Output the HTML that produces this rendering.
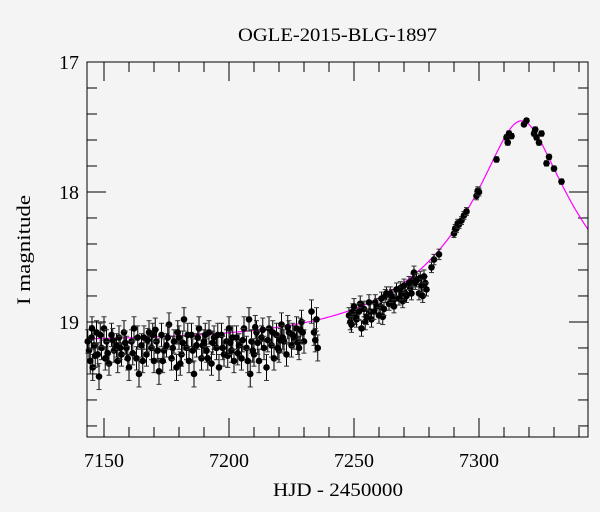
<!DOCTYPE html>
<html><head><meta charset="utf-8"><style>
body{margin:0;background:#f4f4f4;}
svg{display:block;font-family:"Liberation Serif",serif;}
</style></head><body>
<svg id="c" width="600" height="512" xmlns="http://www.w3.org/2000/svg">
<rect x="0" y="0" width="600" height="512" fill="#f4f4f4"/>
<text x="238" y="41" font-size="19" textLength="199" lengthAdjust="spacingAndGlyphs">OGLE-2015-BLG-1897</text>
<text x="273" y="496" font-size="19" textLength="130" lengthAdjust="spacingAndGlyphs">HJD - 2450000</text>
<text x="0" y="0" font-size="19" textLength="110" lengthAdjust="spacingAndGlyphs" transform="translate(30,305) rotate(-90)">I magnitude</text>
<g id="ticks"></g>
<g id="model"></g>
<g id="pts"></g>
<rect x="87" y="62" width="501" height="375" fill="none" stroke="#000" stroke-width="1"/>
</svg>
<script>
const xTicks=[7150,7200,7250,7300];
const yTicks=[17,18,19];
const model={t0:7317,tE:60,u0:0.213,base:19.15};
const data=[
[7144,19.22,0.09],[7144.5,19.30,0.1],[7145,19.12,0.09],[7145.5,19.35,0.1],[7146,19.18,0.09],[7147,19.08,0.09],[7147.5,19.25,0.09],[7148,19.42,0.1],[7149,19.20,0.09],[7150,19.05,0.09],[7150.5,19.28,0.09],[7151,19.15,0.09],[7152,19.32,0.09],[7153,19.10,0.09],[7154,19.22,0.09],[7155,19.18,0.09],[7155.5,19.30,0.09],[7156,19.12,0.09],[7157,19.25,0.09],[7158,19.08,0.09],[7159,19.20,0.09],[7160,19.35,0.1],[7161,19.15,0.09],[7162,19.05,0.09],[7163,19.28,0.09],[7164,19.40,0.1],[7165,19.18,0.09],[7166,19.12,0.09],[7167,19.25,0.09],[7168,19.08,0.09],[7169,19.20,0.09],[7170,19.30,0.09],[7171,19.15,0.09],[7172,19.38,0.1],[7173,19.10,0.09],[7174,19.22,0.09],[7175,19.18,0.09],[7176,19.02,0.09],[7177,19.28,0.09],[7178,19.15,0.09],[7179,19.35,0.1],[7180,19.12,0.09],[7181,19.25,0.09],[7182,18.98,0.09],[7183,19.20,0.09],[7184,19.30,0.09],[7185,19.10,0.09],[7186,19.40,0.1],[7187,19.18,0.09],[7188,19.05,0.09],[7189,19.28,0.09],[7190,19.15,0.09],[7191,19.22,0.09],[7192,19.08,0.09],[7193,19.32,0.09],[7194,19.12,0.09],[7195,19.20,0.09],[7196,19.35,0.1],[7197,19.10,0.09],[7198,19.25,0.09],[7199,19.15,0.09],[7200,19.05,0.09],[7201,19.22,0.09],[7202,19.30,0.09],[7203,19.12,0.09],[7204,19.18,0.09],[7205,19.28,0.09],[7206,19.05,0.09],[7207,19.20,0.09],[7208,18.98,0.09],[7208.5,19.40,0.1],[7209,19.15,0.09],[7210,19.25,0.09],[7211,19.08,0.09],[7212,19.30,0.09],[7213,19.12,0.09],[7214,19.20,0.09],[7215,19.35,0.1],[7216,19.05,0.09],[7217,19.18,0.09],[7218,19.28,0.09],[7219,19.10,0.09],[7220,19.22,0.09],[7221,19.02,0.09],[7222,19.15,0.09],[7223,19.25,0.09],[7224,19.08,0.09],[7225,19.18,0.09],[7226,19.12,0.09],[7227,19.05,0.09],[7228,19.20,0.09],[7229,19.00,0.09],[7230,19.15,0.09],[7233,18.92,0.09],[7234,19.08,0.1],[7235,18.98,0.09],[7235.5,19.20,0.1],
[7143.5,19.15,0.09],[7146.5,19.26,0.09],[7148.5,19.10,0.09],[7151.5,19.24,0.09],[7153.5,19.14,0.09],[7156.5,19.20,0.09],[7158.5,19.16,0.09],[7161.5,19.24,0.09],[7163.5,19.12,0.09],[7165.5,19.30,0.09],[7167.5,19.14,0.09],[7169.5,19.10,0.09],[7171.5,19.22,0.09],[7173.5,19.30,0.09],[7175.5,19.12,0.09],[7177.5,19.20,0.09],[7179.5,19.08,0.09],[7181.5,19.16,0.09],[7183.5,19.10,0.09],[7185.5,19.22,0.09],[7187.5,19.12,0.09],[7189.5,19.18,0.09],[7191.5,19.28,0.09],[7193.5,19.16,0.09],[7195.5,19.10,0.09],[7197.5,19.20,0.09],[7199.5,19.26,0.09],[7201.5,19.12,0.09],[7203.5,19.24,0.09],[7205.5,19.14,0.09],[7207.5,19.30,0.09],[7209.5,19.22,0.09],[7211.5,19.16,0.09],[7213.5,19.06,0.09],[7215.5,19.14,0.09],[7217.5,19.08,0.09],[7219.5,19.20,0.09],[7221.5,19.12,0.09],[7223.5,19.04,0.09],[7225.5,19.10,0.09],[7227.5,19.16,0.09],[7229.5,19.08,0.09],[7145.2,19.05,0.09],[7159.5,19.28,0.09],[7170.5,19.06,0.09],[7180.5,19.32,0.09],[7190.5,19.10,0.09],[7200.5,19.16,0.09],[7210.5,19.04,0.09],[7220.5,19.14,0.09],[7228.5,19.06,0.09],[7234.5,19.14,0.09],
[7248.5,19.00,0.06],[7249.5,18.92,0.06],[7250.5,18.96,0.06],[7252.5,18.86,0.06],[7254.5,19.00,0.06],[7256.5,18.92,0.06],[7258.5,18.85,0.06],[7260.5,18.88,0.05],[7262.5,18.80,0.05],[7264.5,18.78,0.05],[7266.5,18.82,0.05],[7268.5,18.74,0.05],[7270.5,18.78,0.05],[7272.5,18.74,0.05],[7274.5,18.70,0.05],[7276.5,18.66,0.05],[7278.5,18.70,0.05],[7261.5,18.96,0.06],[7265.5,18.84,0.05],[7269.5,18.84,0.05],[7273.5,18.68,0.05],[7277.5,18.80,0.05],
[7248,18.95,0.06],[7249,19.02,0.06],[7250,18.88,0.06],[7251,18.98,0.06],[7252,18.92,0.06],[7253,19.05,0.06],[7254,18.90,0.06],[7255,18.96,0.06],[7256,18.85,0.06],[7257,18.98,0.06],[7258,18.92,0.06],[7259,18.88,0.06],[7260,18.95,0.06],[7261,18.82,0.05],[7262,18.90,0.05],[7263,18.78,0.05],[7264,18.86,0.05],[7265,18.80,0.05],[7266,18.88,0.05],[7267,18.75,0.05],[7268,18.82,0.05],[7269,18.78,0.05],[7270,18.72,0.05],[7271,18.80,0.05],[7272,18.70,0.05],[7273,18.78,0.05],[7274,18.62,0.05],[7275,18.68,0.05],[7276,18.78,0.05],[7277,18.72,0.05],[7278,18.65,0.05],[7279,18.75,0.05],[7281,18.58,0.04],[7282,18.52,0.04],[7284,18.48,0.04],[7290,18.32,0.03],[7290.5,18.28,0.03],[7291,18.28,0.03],[7291.5,18.24,0.03],[7292,18.25,0.03],[7293,18.22,0.03],[7294,18.18,0.03],[7295,18.15,0.03],[7299,18.03,0.03],[7299.5,17.99,0.03],[7300,18.00,0.03],[7307,17.75,0.02],[7311,17.58,0.02],[7311.5,17.62,0.02],[7312,17.55,0.02],[7313,17.57,0.02],[7318,17.48,0.015],[7319,17.45,0.015],[7322,17.55,0.02],[7322.5,17.52,0.02],[7323,17.58,0.02],[7324,17.62,0.02],[7325,17.55,0.02],[7327,17.78,0.02],[7328,17.73,0.02],[7330,17.82,0.02],[7333,17.92,0.02]
];
const L=87,R=588,T=62,B=437,X0=7143.2,X1=7343.6,Y0=17,Y1=19.885;
const sx=t=>L+(t-X0)/(X1-X0)*(R-L);
const sy=m=>T+(m-Y0)/(Y1-Y0)*(B-T);
const NS="http://www.w3.org/2000/svg";
function mk(tag,attrs,parent){const e=document.createElementNS(NS,tag);for(const k in attrs)e.setAttribute(k,attrs[k]);parent.appendChild(e);return e;}
const tk=document.getElementById('ticks');
for(let t=7150;t<=7340;t+=10){
  const major=xTicks.includes(t);const len=major?19:10;const x=sx(t);
  const a=mk('line',{x1:x,x2:x,y1:B,y2:B-len,stroke:'#000'},tk);
  
  
  const b=mk('line',{x1:x,x2:x,y1:T,y2:T+len,stroke:'#000'},tk);
  
  
}
xTicks.forEach(t=>{const e=mk('text',{x:sx(t),y:467,'font-size':20,'text-anchor':'middle'},tk);e.textContent=t;
  
  });
for(let i=0;i<=14;i++){
  const m=17+i*0.2;const major=(i%5===0);const len=major?19:10;const y=sy(m);
  const a=mk('line',{x1:L,x2:L+len,y1:y,y2:y,stroke:'#000'},tk);
  
  
  const b=mk('line',{x1:R,x2:R-len,y1:y,y2:y,stroke:'#000'},tk);
  
  
}
yTicks.forEach(m=>{const e=mk('text',{x:79,y:sy(m)+7,'font-size':20,'text-anchor':'end'},tk);e.textContent=m;
  
  });
function magAt(t){const tau=(t-model.t0)/model.tE;const u=Math.sqrt(tau*tau+model.u0*model.u0);const A=(u*u+2)/(u*Math.sqrt(u*u+4));return model.base-2.5*Math.log10(A);}
let d='';for(let x=L;x<=R;x+=1){const t=X0+(x-L)/(R-L)*(X1-X0);d+=(x===L?'M':'L')+x+','+sy(magAt(t)).toFixed(2);}
const mp=mk('path',{d:d,fill:'none',stroke:'#ff00ff','stroke-width':1.2},document.getElementById('model'));


const pg=document.getElementById('pts');
data.forEach(p=>{
  const x=sx(p[0]),y=sy(p[1]),y1=sy(p[1]-p[2]),y2=sy(p[1]+p[2]);
  const g=mk('g',{},pg);
  
  
  mk('line',{x1:x,x2:x,y1:y1,y2:y2,stroke:'#000','stroke-width':1},g);
  mk('line',{x1:x-2.5,x2:x+2.5,y1:y1,y2:y1,stroke:'#333','stroke-width':1},g);
  mk('line',{x1:x-2.5,x2:x+2.5,y1:y2,y2:y2,stroke:'#333','stroke-width':1},g);
  mk('circle',{cx:x,cy:y,r:3.3,fill:'#000'},g);
});
</script>
</body></html>
